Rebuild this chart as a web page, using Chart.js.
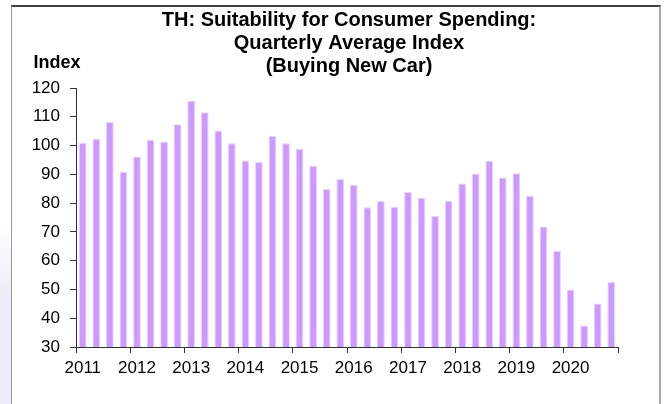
<!DOCTYPE html>
<html>
<head>
<meta charset="utf-8">
<script src="https://cdn.jsdelivr.net/npm/chart.js@4/dist/chart.umd.min.js"></script>
<style>
  html, body { margin: 0; padding: 0; background: #fff; }
  #wrap { position: relative; width: 667px; height: 404px; overflow: hidden; }
  #side { position: absolute; left: 0; top: 0; width: 11px; height: 404px;
          background: linear-gradient(to bottom, #fff 0%, #fff 55%, #ecebf7 75%, #ecebf7 100%); }
  #frame { position: absolute; left: 11px; top: 5px; width: 647px; height: 420px;
           border-top: 2px solid #404040; border-left: 1px solid #9a9a9a; border-right: 2px solid #a8a8a8; }
  #c { position: absolute; left: 0; top: 0; }
</style>
</head>
<body>
<div id="wrap">
  <div id="side"></div>
  <div id="frame"></div>
  <canvas id="c" width="667" height="404"></canvas>
</div>
<script>
// quarters 2011Q1 .. 2020Q4
const years = ['2011','2012','2013','2014','2015','2016','2017','2018','2019','2020'];
const quarters = ['Q1','Q2','Q3','Q4'];
const values = [
  100.9, 102.4, 108.2, 90.8,
  96.2, 102.0, 101.3, 107.4,
  115.5, 111.6, 105.2, 100.8,
  94.8, 94.3, 103.3, 100.8,
  98.9, 93.0, 84.9, 88.4,
  86.3, 78.6, 80.7, 78.7,
  83.9, 81.9, 75.6, 80.7,
  86.8, 90.2, 94.6, 88.9,
  90.4, 82.6, 71.9, 63.4,
  50.0, 37.5, 45.1, 52.6
];
const titleLines = ['TH: Suitability for Consumer Spending:', 'Quarterly Average Index', '(Buying New Car)'];
const unitLabel = 'Index';

const labels = [];
years.forEach(y => quarters.forEach(q => labels.push(y + ' ' + q)));

const FONT = 'Arial, "Liberation Sans", sans-serif';

// title + unit text drawn on the canvas
const textPlugin = {
  id: 'texts',
  afterDraw(chart) {
    const ctx = chart.ctx;
    const area = chart.chartArea;
    ctx.save();
    ctx.fillStyle = '#000';
    ctx.textAlign = 'center';
    ctx.textBaseline = 'middle';
    ctx.font = 'bold 20px ' + FONT;
    const cx = (area.left + area.right) / 2 + 2;
    titleLines.forEach((t, i) => ctx.fillText(t, cx, 20 + i * 23));
    ctx.font = 'bold 18px ' + FONT;
    ctx.fillText(unitLabel, 57, 63);
    ctx.restore();
  }
};

new Chart(document.getElementById('c'), {
  type: 'bar',
  data: {
    labels: labels,
    datasets: [{
      data: values,
      backgroundColor: '#CC99FF',
      borderColor: 'rgba(230,204,255,0.9)',
      borderWidth: 1,
      barPercentage: 0.57,
      categoryPercentage: 1.0
    }]
  },
  options: {
    responsive: false,
    animation: false,
    layout: { padding: { left: 0, right: 49, top: 88, bottom: 0 } },
    plugins: { legend: { display: false }, tooltip: { enabled: false }, title: { display: false } },
    scales: {
      x: {
        offset: true,
        grid: {
          offset: true,
          drawOnChartArea: false,
          tickLength: 6,
          color: c => (c.tick ? (c.index % 4 === 0 ? '#333' : 'rgba(0,0,0,0)') : '#333')
        },
        border: { color: '#333', width: 1 },
        ticks: {
          autoSkip: false,
          maxRotation: 0,
          color: '#000',
          padding: 5,
          font: { family: FONT, size: 17 },
          callback: (v, i) => (i % 4 === 0 ? years[i / 4] : '')
        },
        afterFit: s => { s.height = 57; }
      },
      y: {
        min: 30,
        max: 120,
        grid: { drawOnChartArea: false, tickLength: 6, color: '#333' },
        border: { color: '#333', width: 1 },
        ticks: {
          stepSize: 10,
          color: '#000',
          padding: 10,
          font: { family: FONT, size: 17 }
        },
        afterFit: s => { s.width = 76; }
      }
    }
  },
  plugins: [textPlugin]
});
</script>
</body>
</html>
